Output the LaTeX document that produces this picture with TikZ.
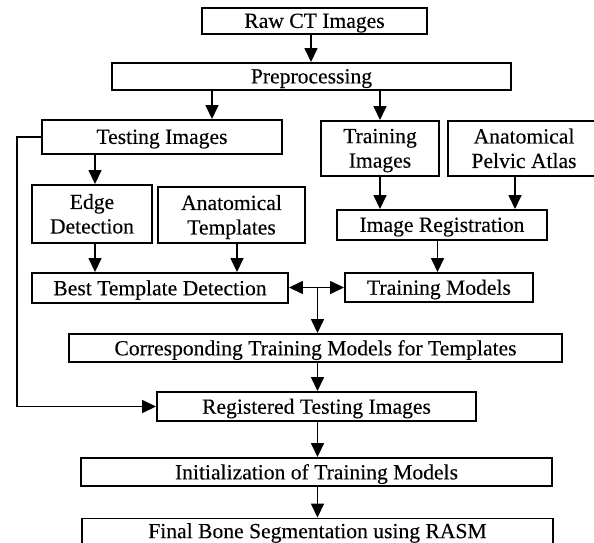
\documentclass[tikz,border=0pt]{standalone}
\usepackage{fontspec}
\setmainfont{Liberation Serif}[FakeBold=0.2]
\usetikzlibrary{arrows.meta}
\begin{document}
\begin{tikzpicture}[x=1pt,y=-1pt,
  box/.style={draw,line width=1.9pt,rectangle,inner sep=0pt,align=center,
    text depth=0.5pt,font=\fontsize{21.6}{24.5}\selectfont},
  tip/.tip={Triangle[length=14pt,width=13pt]},
  arr/.style={line width=1.5pt,-tip},
  barr/.style={line width=1.5pt,tip-tip}]
\useasboundingbox (0,0) rectangle (594,543);
% boxes (centre, width x height)
\node[box,minimum width=225pt,minimum height=26pt] (raw) at (314.5,21) {Raw CT Images};
\node[box,minimum width=399pt,minimum height=27pt] (pre) at (311.5,76.5) {Preprocessing};
\node[box,minimum width=240pt,minimum height=34pt] (test) at (162,137) {Testing Images};
\node[box,minimum width=118pt,minimum height=55pt] (train) at (380,148.5) {Training\\Images};
\node[box,minimum width=152pt,minimum height=55pt] (atlas) at (524,148.5) {Anatomical\\Pelvic Atlas};
\node[box,minimum width=120pt,minimum height=58pt] (edge) at (92,214) {Edge\\Detection};
\node[box,minimum width=147pt,minimum height=56pt] (templ) at (231.5,215) {Anatomical\\Templates};
\node[box,minimum width=210pt,minimum height=30pt] (imreg) at (442,225) {Image Registration};
\node[box,minimum width=256pt,minimum height=30pt] (best) at (160,288) {Best Template Detection};
\node[box,minimum width=188pt,minimum height=29pt] (models) at (439,287.5) {Training Models};
\node[box,minimum width=493pt,minimum height=28pt] (corr) at (315.5,348) {Corresponding Training Models for Templates};
\node[box,minimum width=319pt,minimum height=29pt] (regtest) at (316.5,406.5) {Registered Testing Images};
\node[box,minimum width=471pt,minimum height=28pt] (init) at (316.5,472) {Initialization of Training Models};
\node[box,text depth=,minimum width=471pt,minimum height=29pt] (final) at (317.5,533) {Final Bone Segmentation using RASM};
% connectors
\draw[arr] (311,0 |- raw.south) -- (311,0 |- pre.north);
\draw[arr] (212,0 |- pre.south) -- (212,0 |- test.north);
\draw[arr] (380,0 |- pre.south) -- (380,0 |- train.north);
\draw[arr] (95,0 |- test.south) -- (95,0 |- edge.north);
\draw[arr] (95,0 |- edge.south) -- (95,0 |- best.north);
\draw[arr] (237,0 |- templ.south) -- (237,0 |- best.north);
\draw[arr] (380,0 |- train.south) -- (380,0 |- imreg.north);
\draw[arr] (515,0 |- atlas.south) -- (515,0 |- imreg.north);
\draw[arr] (437.5,0 |- imreg.south) -- (437.5,0 |- models.north);
\coordinate (mid) at (317.5,287.5);
\draw[barr] (best.east |- mid) -- (models.west |- mid);
\draw[arr] (mid) -- (mid |- corr.north);
\draw[arr] (317.5,0 |- corr.south) -- (317.5,0 |- regtest.north);
\draw[arr] (317.5,0 |- regtest.south) -- (317.5,0 |- init.north);
\draw[arr] (317.5,0 |- init.south) -- (317.5,0 |- final.north);
\coordinate (lt) at (17,137);
\coordinate (lb) at (17,406.5);
\draw[arr] (test.west) -- (lt) -- (lb) -- (regtest.west);
\end{tikzpicture}
\end{document}
